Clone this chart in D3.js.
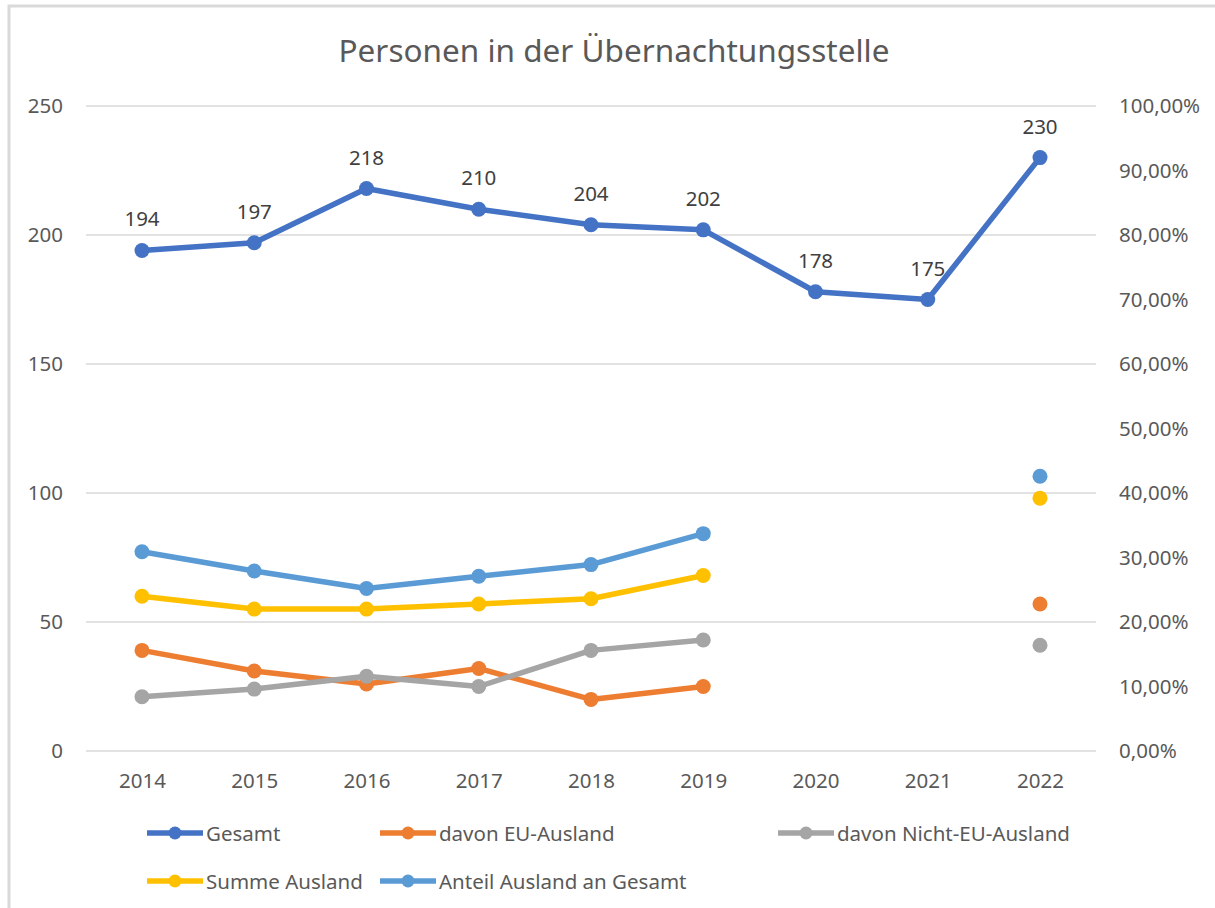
<!DOCTYPE html>
<html>
<head>
<meta charset="utf-8">
<script src="https://cdn.jsdelivr.net/npm/d3@7"></script>
<style>
  body { margin: 0; background: #fff; }
  svg text { font-family: "Noto Sans", sans-serif; fill: #595959; }
</style>
</head>
<body>
<script>
// data
var years = ["2014", "2015", "2016", "2017", "2018", "2019", "2020", "2021", "2022"];
var gesamt = [194, 197, 218, 210, 204, 202, 178, 175, 230];
var euAusland = [39, 31, 26, 32, 20, 25, null, null, 57];
var nichtEuAusland = [21, 24, 29, 25, 39, 43, null, null, 41];
var summeAusland = [60, 55, 55, 57, 59, 68, null, null, 98];
var anteilAusland = [0.309, 0.279, 0.252, 0.271, 0.289, 0.337, null, null, 0.426];
var leftTicks = [0, 50, 100, 150, 200, 250];
var rightTicks = [0, 0.1, 0.2, 0.3, 0.4, 0.5, 0.6, 0.7, 0.8, 0.9, 1.0];

var width = 1215, height = 908;
var svg = d3.select("body").append("svg")
    .attr("width", width)
    .attr("height", height);

// chart border
svg.append("rect")
    .attr("x", 9).attr("y", 6)
    .attr("width", width + 20).attr("height", height)
    .attr("fill", "none")
    .attr("stroke", "#d9d9d9")
    .attr("stroke-width", 3);

var x = d3.scalePoint().domain(years).range([142, 1040]);
var y = d3.scaleLinear().domain([0, 250]).range([751, 106]);
var y2 = d3.scaleLinear().domain([0, 1]).range([751, 106]);

svg.append("text")
    .attr("x", 614).attr("y", 62)
    .attr("text-anchor", "middle")
    .style("font-size", "31.5px")
    .text("Personen in der Übernachtungsstelle");

// gridlines
svg.append("g").selectAll("line")
    .data(leftTicks)
    .join("line")
    .attr("x1", 86).attr("x2", 1096)
    .attr("y1", d => y(d)).attr("y2", d => y(d))
    .attr("stroke", "#d9d9d9")
    .attr("stroke-width", 1.5);

var axisL = svg.append("g")
    .attr("transform", "translate(86,0)")
    .call(d3.axisLeft(y).tickValues(leftTicks).tickSize(0).tickPadding(23));
axisL.select(".domain").remove();

var axisR = svg.append("g")
    .attr("transform", "translate(1096,0)")
    .call(d3.axisRight(y2).tickValues(rightTicks).tickSize(0).tickPadding(23)
        .tickFormat(d => d3.format(".2f")(d * 100).replace(".", ",") + "%"));
axisR.select(".domain").remove();

var axisB = svg.append("g")
    .attr("transform", "translate(0,751)")
    .call(d3.axisBottom(x).tickSize(0).tickPadding(22));
axisB.select(".domain").remove();

svg.selectAll(".tick text")
    .style("font-size", "20.5px")
    .style("font-family", "'Noto Sans', sans-serif")
    .attr("fill", "#595959");

var series = [
  { name: "Gesamt", values: gesamt, color: "#4472c4", scale: y },
  { name: "davon EU-Ausland", values: euAusland, color: "#ed7d31", scale: y },
  { name: "davon Nicht-EU-Ausland", values: nichtEuAusland, color: "#a5a5a5", scale: y },
  { name: "Summe Ausland", values: summeAusland, color: "#ffc000", scale: y },
  { name: "Anteil Ausland an Gesamt", values: anteilAusland, color: "#5b9bd5", scale: y2 }
];

var drawOrder = [1, 2, 3, 4, 0];
drawOrder.forEach(function (i) {
  var s = series[i];
  var line = d3.line()
      .defined(d => d != null)
      .x((d, j) => x(years[j]))
      .y(d => s.scale(d));
  svg.append("path")
      .datum(s.values)
      .attr("d", line)
      .attr("fill", "none")
      .attr("stroke", s.color)
      .attr("stroke-width", 5.5)
      .attr("stroke-linejoin", "round");
  svg.append("g").selectAll("circle")
      .data(s.values.map((v, j) => ({ v: v, yr: years[j] })).filter(d => d.v != null))
      .join("circle")
      .attr("cx", d => x(d.yr))
      .attr("cy", d => s.scale(d.v))
      .attr("r", 7.5)
      .attr("fill", s.color);
});

// data labels for Gesamt
svg.append("g").selectAll("text")
    .data(gesamt)
    .join("text")
    .attr("x", (d, j) => x(years[j]))
    .attr("y", d => y(d) - 24)
    .attr("text-anchor", "middle")
    .style("font-size", "20.5px")
    .style("fill", "#404040")
    .text(d => d);

// legend
var legendPos = [[147, 833], [380, 833], [778, 833], [147, 881], [380, 881]];
series.forEach(function (s, i) {
  var g = svg.append("g").attr("transform", "translate(" + legendPos[i][0] + "," + legendPos[i][1] + ")");
  g.append("line")
      .attr("x1", 0).attr("x2", 56)
      .attr("stroke", s.color)
      .attr("stroke-width", 5.5);
  g.append("circle").attr("cx", 28).attr("r", 6.5).attr("fill", s.color);
  g.append("text")
      .attr("x", 59).attr("y", 7.5)
      .style("font-size", "20.5px")
      .text(s.name);
});
</script>
</body>
</html>
